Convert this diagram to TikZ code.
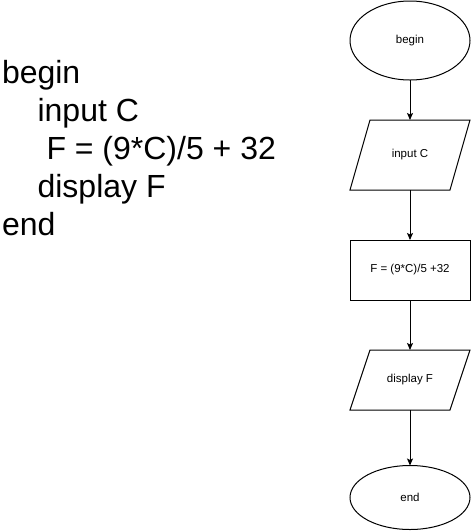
\documentclass[tikz,border=0pt]{standalone}
\usepackage{fontspec}
\setmainfont{Liberation Sans}
\usetikzlibrary{shapes.geometric,arrows.meta}
\begin{document}
\begin{tikzpicture}[x=1pt,y=-1pt,
  every node/.style={inner sep=0pt,outer sep=0pt},
  box/.style={line width=1pt,font=\fontsize{11.5}{13.8}\selectfont},
  term/.style={box,draw,ellipse,minimum width=120pt},
  io/.style={box,rectangle,minimum width=120pt},
  proc/.style={box,draw,rectangle,minimum width=120pt,minimum height=60pt},
  slant/.style={line width=1pt,line join=miter},
  arr/.style={line width=1pt,-{Stealth[length=7pt,width=6pt,inset=1.5pt]}},
  code/.style={anchor=base west,font=\fontsize{32}{38}\selectfont}]
\fill[white] (0,0) rectangle (472,531);
\useasboundingbox (0,0) rectangle (472,531);

% pseudocode listing
\node[code] (l1) at (2,83.5) {begin};
\node[code] (l2) at (37.6,121.5) {input C};
\node[code] (l3) at (46.5,159.5) {F = (9*C)/5 + 32};
\node[code] (l4) at (37.6,197.5) {display F};
\node[code] (l5) at (2,235.5) {end};

% flowchart
\node[term,minimum height=79pt] (start) at (410,40.5) {begin};
\node[io,minimum height=70pt] (in) at (410,155) {input C};
\node[proc] (calc) at (410,270) {F = (9*C)/5 +32};
\node[io,minimum height=60pt] (out) at (410,380) {display F};
\node[term,minimum height=64pt] (stop) at (410,497.5) {end};

% slanted input/output outlines
\foreach \n in {in,out}
  \draw[slant] ([xshift=20pt]\n.north west) -- (\n.north east)
    -- ([xshift=-20pt]\n.south east) -- (\n.south west) -- cycle;

\draw[arr] (start) -- (in);
\draw[arr] (in) -- (calc);
\draw[arr] (calc) -- (out);
\draw[arr] (out) -- (stop);
\end{tikzpicture}
\end{document}
